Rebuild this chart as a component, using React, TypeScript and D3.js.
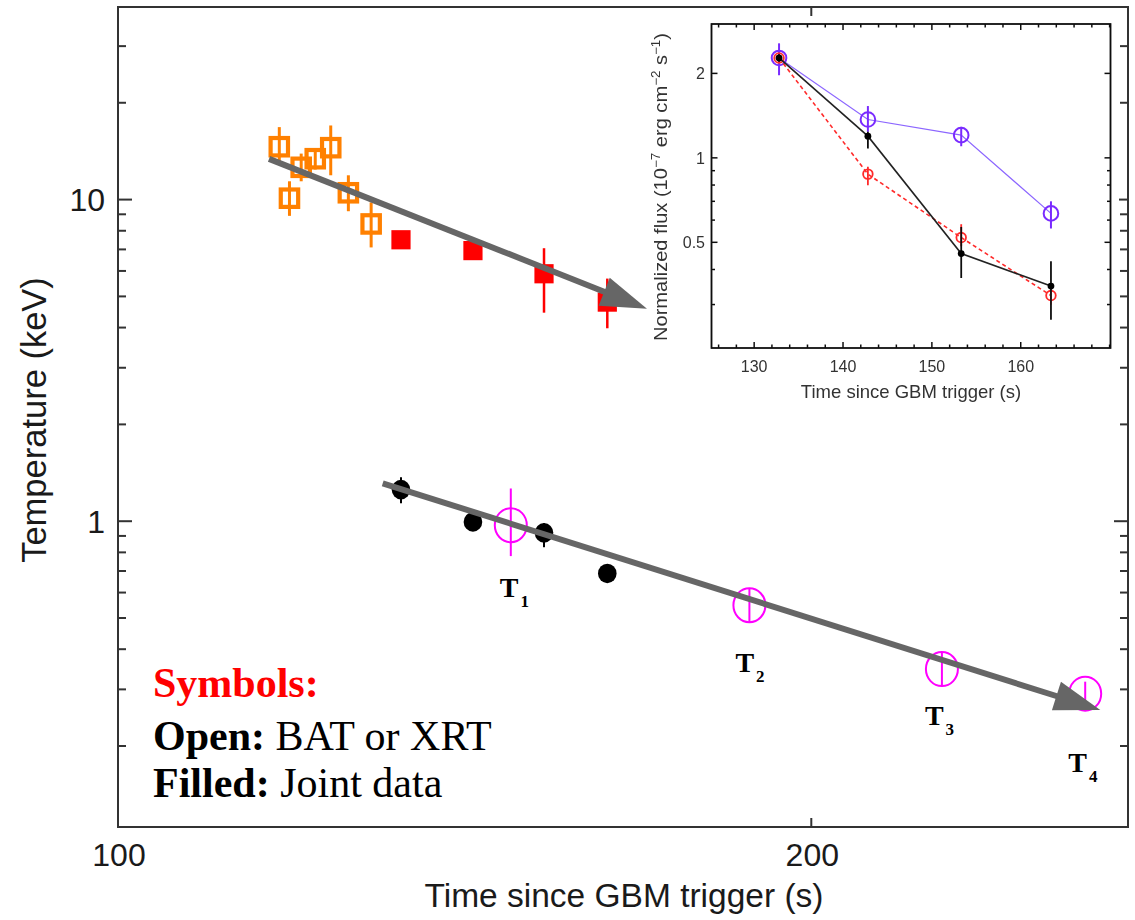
import React from 'react';
import * as d3 from 'd3';

const W = 1135;
const H = 920;

// ---- Main panel: temperature evolution ----
// BAT-only fits (open orange squares)
const batTime = [117.5, 118.7, 120.1, 121.8, 123.7, 125.9, 128.8];
const batTemp = [14.6, 10.1, 12.6, 13.4, 14.5, 10.5, 8.4];
const batLo = [12.9, 8.9, 11.4, 12.4, 11.9, 9.2, 7.1];
const batHi = [16.8, 11.4, 13.9, 14.3, 17.0, 11.9, 9.8];

// Joint fits: hotter component (filled red squares)
const jointTime = [132.7, 142.6, 153.1, 163.1];
const hotTemp = [7.5, 6.94, 5.88, 4.8];
const hotLo = [7.3, 6.6, 4.45, 3.98];
const hotHi = [7.7, 7.3, 7.06, 5.68];

// Joint fits: cooler component (filled black circles)
const coolTemp = [1.254, 0.995, 0.92, 0.688];
const coolLo = [1.137, 0.97, 0.83, 0.665];
const coolHi = [1.37, 1.02, 0.986, 0.71];

// XRT-only fits (open magenta circles)
const xrtTime = [148.1, 188.0, 227.9, 263.0];
const xrtTemp = [0.972, 0.548, 0.347, 0.291];
const xrtLo = [0.779, 0.483, 0.306, 0.265];
const xrtHi = [1.264, 0.619, 0.39, 0.317];
const xrtNames = ['1', '2', '3', '4'];

// Trend arrows (time, temperature at tail and tip)
const hotTrendTime = [116.3, 169.7];
const hotTrendTemp = [13.38, 4.58];
const coolTrendTime = [130.3, 267.0];
const coolTrendTemp = [1.312, 0.259];

const xTickValues = [100, 200];
const yLabelValues = [1, 10];

// ---- Inset: normalized flux ----
const fluxTime = [132.8, 142.8, 153.3, 163.4];
const fluxJoint = [2.27, 1.195, 0.456, 0.349];
const fluxJointLo = [2.2, 1.08, 0.373, 0.265];
const fluxJointHi = [2.34, 1.24, 0.567, 0.428];
const fluxRed = [2.27, 0.875, 0.52, 0.323];
const fluxRedLo = [2.2, 0.799, 0.484, 0.3];
const fluxRedHi = [2.34, 0.929, 0.58, 0.357];
const fluxViolet = [2.27, 1.37, 1.205, 0.634];
const fluxVioletLo = [1.97, 1.238, 1.1, 0.56];
const fluxVioletHi = [2.56, 1.53, 1.29, 0.7];

const insetXMajor = [130, 140, 150, 160];
const insetYMajor = [0.5, 1, 2];
const insetYMinor = [0.3, 0.4, 0.6, 0.7, 0.8, 0.9];

const SANS = "'Liberation Sans', Arial, Helvetica, sans-serif";
const SERIF = "'Liberation Serif', 'Times New Roman', serif";

// label placement for T_n tags, relative to their marker
const tagDx = [-11, -14, -17, -17];
const tagDy = [72, 67, 56, 78];

function Arrow({ x1, y1, x2, y2 }: { x1: number; y1: number; x2: number; y2: number }) {
  const dx = x2 - x1;
  const dy = y2 - y1;
  const L = Math.hypot(dx, dy);
  const ux = dx / L;
  const uy = dy / L;
  const hl = 46;
  const hw = 15;
  const bx = x2 - ux * hl;
  const by = y2 - uy * hl;
  const pts = [
    [x2, y2],
    [bx - uy * hw, by + ux * hw],
    [bx + uy * hw, by - ux * hw],
  ];
  return (
    <g>
      <line x1={x1} y1={y1} x2={bx + ux * 4} y2={by + uy * 4} stroke="#666" strokeWidth={6} />
      <polygon points={pts.map((p) => p.join(',')).join(' ')} fill="#666" />
    </g>
  );
}

export default function App() {
  const L = 118, R = 1128, T = 7, B = 827;
  const x = d3.scaleLog().domain([100, 274.5]).range([L, R]);
  const y = d3.scaleLog().domain([0.112, 39.7]).range([B, T]);
  const yTicks = y.ticks();

  // inset frame
  const iL = 711.5, iR = 1110.5, iT = 24, iB = 348;
  const xi = d3.scaleLinear().domain([125.2, 170.1]).range([iL, iR]);
  const yi = d3.scaleLog().domain([0.21, 3.0]).range([iB, iT]);
  const insetXMinor = d3.range(126, 171, 2).filter((v) => !insetXMajor.includes(v));

  const lineIn = d3
    .line<number>()
    .x((_, i) => xi(fluxTime[i]))
    .y((d) => yi(d));

  return (
    <svg width={W} height={H} style={{ position: 'absolute', left: 0, top: 0, background: '#fff' }}>
      <defs>
        <filter id="soft" x="-5%" y="-5%" width="110%" height="110%">
          <feGaussianBlur stdDeviation="0.55" />
        </filter>
      </defs>
      <rect x={0} y={0} width={W} height={H} fill="#fff" />

      {/* frame */}
      <rect x={L} y={T} width={R - L} height={B - T} fill="none" stroke="#333" strokeWidth={2} />

      {/* y ticks, left and right */}
      {yTicks.map((v, i) => {
        const major = yLabelValues.includes(v);
        const len = major ? 14 : 8;
        return (
          <g key={'yt' + i}>
            <line x1={L} x2={L + len} y1={y(v)} y2={y(v)} stroke="#333" strokeWidth={2} />
            <line x1={R} x2={R - len} y1={y(v)} y2={y(v)} stroke="#333" strokeWidth={2} />
          </g>
        );
      })}
      {yLabelValues.map((v) => (
        <text key={'yl' + v} x={105} y={y(v)} dy="0.36em" textAnchor="end" fontFamily={SANS} fontSize={32} fill="#1a1a1a">
          {v}
        </text>
      ))}

      {/* x ticks, bottom and top */}
      {xTickValues.map((v) => (
        <g key={'xt' + v}>
          <line x1={x(v)} x2={x(v)} y1={B} y2={B - 9} stroke="#333" strokeWidth={2} />
          <line x1={x(v)} x2={x(v)} y1={T} y2={T + 9} stroke="#333" strokeWidth={2} />
          <text x={x(v) + 1} y={866} textAnchor="middle" fontFamily={SANS} fontSize={32} fill="#1a1a1a">
            {v}
          </text>
        </g>
      ))}

      <text x={624} y={907} textAnchor="middle" fontFamily={SANS} fontSize={33.5} fill="#1a1a1a">
        Time since GBM trigger (s)
      </text>
      <text transform="translate(46,420) rotate(-90)" textAnchor="middle" fontFamily={SANS} fontSize={34.5} fill="#1a1a1a">
        Temperature (keV)
      </text>

      {/* BAT-only open squares */}
      {batTime.map((t, i) => (
        <g key={'bat' + i}>
          <line x1={x(t)} x2={x(t)} y1={y(batLo[i])} y2={y(batHi[i])} stroke="#ff8000" strokeWidth={3} />
          <rect x={x(t) - 8.7} y={y(batTemp[i]) - 8.7} width={17.4} height={17.4} fill="none" stroke="#ff8000" strokeWidth={4.2} />
        </g>
      ))}

      {/* joint hot component */}
      {jointTime.map((t, i) => (
        <g key={'hot' + i}>
          <line x1={x(t)} x2={x(t)} y1={y(hotLo[i])} y2={y(hotHi[i])} stroke="#ff0000" strokeWidth={2.5} />
          <rect x={x(t) - 9.6} y={y(hotTemp[i]) - 9.6} width={19.2} height={19.2} fill="#ff0000" />
        </g>
      ))}

      {/* joint cool component */}
      {jointTime.map((t, i) => (
        <g key={'cool' + i}>
          <line x1={x(t)} x2={x(t)} y1={y(coolLo[i])} y2={y(coolHi[i])} stroke="#000" strokeWidth={2} />
          <ellipse cx={x(t)} cy={y(coolTemp[i])} rx={9.3} ry={9.8} fill="#000" />
        </g>
      ))}

      {/* XRT-only open circles */}
      {xrtTime.map((t, i) => (
        <g key={'xrt' + i}>
          <line x1={x(t)} x2={x(t)} y1={y(xrtLo[i])} y2={y(xrtHi[i])} stroke="#ff00ff" strokeWidth={2} />
          <ellipse cx={x(t)} cy={y(xrtTemp[i])} rx={16} ry={17} fill="none" stroke="#ff00ff" strokeWidth={2} />
          <text
            x={x(t) + tagDx[i]}
            y={y(xrtTemp[i]) + tagDy[i]}
            fontFamily={SERIF}
            fontWeight="bold"
            fontSize={28}
            fill="#000"
          >
            T
            <tspan dx={2} dy={10} fontSize={17}>
              {xrtNames[i]}
            </tspan>
          </text>
        </g>
      ))}

      {/* trend arrows */}
      <Arrow
        x1={x(hotTrendTime[0])}
        y1={y(hotTrendTemp[0])}
        x2={x(hotTrendTime[1])}
        y2={y(hotTrendTemp[1])}
      />
      <Arrow
        x1={x(coolTrendTime[0])}
        y1={y(coolTrendTemp[0])}
        x2={x(coolTrendTime[1])}
        y2={y(coolTrendTemp[1])}
      />

      {/* symbol key */}
      <g fontFamily={SERIF} fontSize={42}>
        <text x={153} y={697} fill="#ff0000" fontWeight="bold">
          Symbols:
        </text>
        <text x={153} y={750} fill="#000">
          <tspan fontWeight="bold">Open:</tspan> BAT or XRT
        </text>
        <text x={153} y={797} fill="#000">
          <tspan fontWeight="bold">Filled:</tspan> Joint data
        </text>
      </g>

      {/* ---- inset ---- */}
      <rect x={648} y={17} width={471} height={396} fill="#fff" />
      <g filter="url(#soft)">
        <rect x={iL} y={iT} width={iR - iL} height={iB - iT} fill="none" stroke="#111" strokeWidth={1.8} />
        {insetXMajor.map((v) => (
          <g key={'ixM' + v}>
            <line x1={xi(v)} x2={xi(v)} y1={iB} y2={iB - 6} stroke="#111" strokeWidth={1.5} />
            <line x1={xi(v)} x2={xi(v)} y1={iT} y2={iT + 6} stroke="#111" strokeWidth={1.5} />
            <text x={xi(v)} y={372} textAnchor="middle" fontFamily={SANS} fontSize={16} fill="#333">
              {v}
            </text>
          </g>
        ))}
        {insetXMinor.map((v) => (
          <g key={'ixm' + v}>
            <line x1={xi(v)} x2={xi(v)} y1={iB} y2={iB - 3.5} stroke="#111" strokeWidth={1.5} />
            <line x1={xi(v)} x2={xi(v)} y1={iT} y2={iT + 3.5} stroke="#111" strokeWidth={1.5} />
          </g>
        ))}
        {insetYMajor.map((v) => (
          <g key={'iyM' + v}>
            <line x1={iL} x2={iL + 6} y1={yi(v)} y2={yi(v)} stroke="#111" strokeWidth={1.5} />
            <line x1={iR} x2={iR - 6} y1={yi(v)} y2={yi(v)} stroke="#111" strokeWidth={1.5} />
            <text x={705} y={yi(v)} dy="0.36em" textAnchor="end" fontFamily={SANS} fontSize={16} fill="#333">
              {v}
            </text>
          </g>
        ))}
        {insetYMinor.map((v) => (
          <g key={'iym' + v}>
            <line x1={iL} x2={iL + 3.5} y1={yi(v)} y2={yi(v)} stroke="#111" strokeWidth={1.5} />
            <line x1={iR} x2={iR - 3.5} y1={yi(v)} y2={yi(v)} stroke="#111" strokeWidth={1.5} />
          </g>
        ))}
        <text x={911} y={398} textAnchor="middle" fontFamily={SANS} fontSize={18.5} fill="#333">
          Time since GBM trigger (s)
        </text>
        <text
          transform="translate(667,187) rotate(-90)"
          textAnchor="middle"
          fontFamily={SANS}
          fontSize={18}
          fill="#333"
          textLength={308}
          lengthAdjust="spacingAndGlyphs"
        >
          Normalized flux (10
          <tspan fontSize={12} dy={-7}>
            −7
          </tspan>
          <tspan dy={7}> erg cm</tspan>
          <tspan fontSize={12} dy={-7}>
            −2
          </tspan>
          <tspan dy={7}> s</tspan>
          <tspan fontSize={12} dy={-7}>
            −1
          </tspan>
          <tspan dy={7}>)</tspan>
        </text>

        {/* violet series */}
        <path d={lineIn(fluxViolet) ?? ''} fill="none" stroke="#8c66ff" strokeWidth={1.2} />
        {fluxTime.map((t, i) => (
          <g key={'fv' + i}>
            <line x1={xi(t)} x2={xi(t)} y1={yi(fluxVioletLo[i])} y2={yi(fluxVioletHi[i])} stroke="#7a2cff" strokeWidth={2} />
            <circle cx={xi(t)} cy={yi(fluxViolet[i])} r={7.3} fill="none" stroke="#7a2cff" strokeWidth={2} />
          </g>
        ))}
        {/* red dashed series */}
        <path d={lineIn(fluxRed) ?? ''} fill="none" stroke="#ff2a2a" strokeWidth={1.6} strokeDasharray="4 3" />
        {fluxTime.map((t, i) => (
          <g key={'fr' + i}>
            <line x1={xi(t)} x2={xi(t)} y1={yi(fluxRedLo[i])} y2={yi(fluxRedHi[i])} stroke="#ff2a2a" strokeWidth={1.8} />
            <circle cx={xi(t)} cy={yi(fluxRed[i])} r={4.8} fill="none" stroke="#ff2a2a" strokeWidth={1.8} />
          </g>
        ))}
        {/* joint series */}
        <path d={lineIn(fluxJoint) ?? ''} fill="none" stroke="#222" strokeWidth={1.6} />
        {fluxTime.map((t, i) => (
          <g key={'fj' + i}>
            <line x1={xi(t)} x2={xi(t)} y1={yi(fluxJointLo[i])} y2={yi(fluxJointHi[i])} stroke="#111" strokeWidth={1.8} />
            <circle cx={xi(t)} cy={yi(fluxJoint[i])} r={3.4} fill="#000" />
          </g>
        ))}
      </g>
    </svg>
  );
}
